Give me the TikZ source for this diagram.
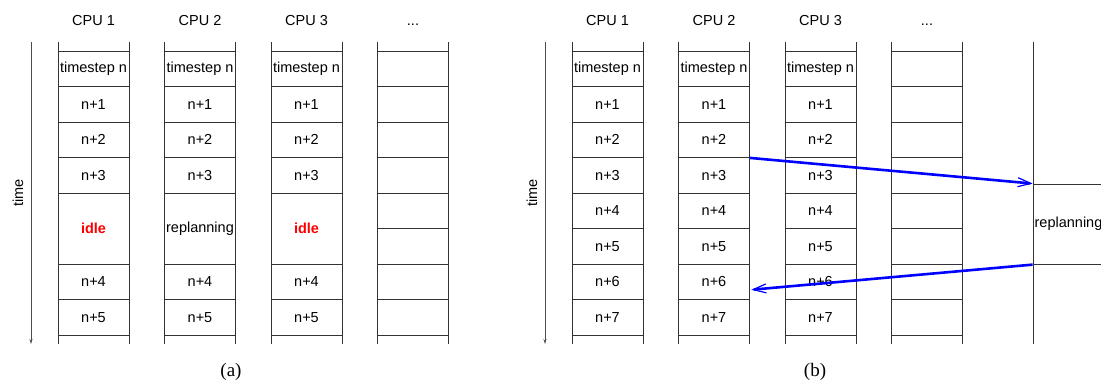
\documentclass[tikz,border=0pt]{standalone}
\usepackage{fontspec}
\setmainfont{Liberation Serif}
\setsansfont{Liberation Sans}
\usetikzlibrary{arrows.meta}

\tikzset{
  cell/.style={draw=black!80, line width=0.8pt, minimum width=71pt, minimum height=35.5pt,
    inner sep=0pt, font=\sffamily\fontsize{14.5}{17}\selectfont},
  wall/.style={draw=black!80, line width=0.8pt},
  head/.style={anchor=base, font=\sffamily\fontsize{14.5}{17}\selectfont},
  axis/.style={draw=black!70, line width=0.8pt, -{Stealth[length=5pt,width=3pt]}},
  flow/.style={draw=blue, line width=2.6pt, -{Straight Barb[length=13pt,width=9pt,line width=1.2pt]}},
  subcap/.style={font=\rmfamily\fontsize{19}{22}\selectfont},
}
\newcommand{\idletxt}{\textcolor{red}{\bfseries idle}}

\begin{document}
\begin{tikzpicture}[x=1pt,y=-1pt]
    \useasboundingbox (0,0) rectangle (1101,383);
    \clip (0,0) rectangle (1101,383);

    % (a)
    \coordinate (ta0) at (31,42);
    \coordinate (ta1) at (31,344);
    \draw[axis] (ta0) -- (ta1);
    \node[head, anchor=center, rotate=90] (timeA) at (18,193) {time};

    \foreach \x in {58,164.5,271,377.5} {
        \draw[wall] (\x,42) -- (\x,344) (\x+71,42) -- (\x+71,344);
    }
    \foreach \c/\x/\t in {1/93.5/\idletxt, 2/200/replanning, 3/306.5/\idletxt} {
        \node[head] (hA\c) at (\x,25) {CPU \c};
        \node[cell] (a\c r0) at (\x,68.75) {timestep n};
        \foreach \r in {1,2,3}
            \node[cell] (a\c r\r) at (\x,68.75+35.5*\r) {n+\r};
        \node[cell, minimum height=71pt] (a\c mid) at (\x,228.5) {\t};
        \node[cell] (a\c r6) at (\x,281.75) {n+4};
        \node[cell] (a\c r7) at (\x,317.25) {n+5};
    }
    \node[head] (hA4) at (413,25) {...};
    \foreach \r in {0,...,7}
        \node[cell] (a4r\r) at (413,68.75+35.5*\r) {};

    \node[subcap] (capA) at (231,372) {(a)};

    % (b)
    \coordinate (tb0) at (545,42);
    \coordinate (tb1) at (545,344);
    \draw[axis] (tb0) -- (tb1);
    \node[head, anchor=center, rotate=90] (timeB) at (532,193) {time};

    \foreach \x in {572,678.5,785,891.5} {
        \draw[wall] (\x,42) -- (\x,344) (\x+71,42) -- (\x+71,344);
    }
    \draw[wall] (1033,42) -- (1033,344);
    \foreach \c/\x in {1/607.5, 2/714, 3/820.5} {
        \node[head] (hB\c) at (\x,25) {CPU \c};
        \node[cell] (b\c r0) at (\x,68.75) {timestep n};
        \foreach \r in {1,...,7}
            \node[cell] (b\c r\r) at (\x,68.75+35.5*\r) {n+\r};
    }
    \node[head] (hB4) at (927,25) {...};
    \foreach \r in {0,...,7}
        \node[cell] (b4r\r) at (927,68.75+35.5*\r) {};

    \node[cell, minimum height=80.25pt] (rep) at (1068.5,224.1) {replanning};

    \coordinate (back) at ([xshift=1.5pt,yshift=-8pt]b2r6.east);
    \draw[flow] (b2r2.south east) -- (rep.north west);
    \draw[flow] (rep.south west) -- (back);

    \node[subcap] (capB) at (815,372) {(b)};
\end{tikzpicture}
\end{document}
